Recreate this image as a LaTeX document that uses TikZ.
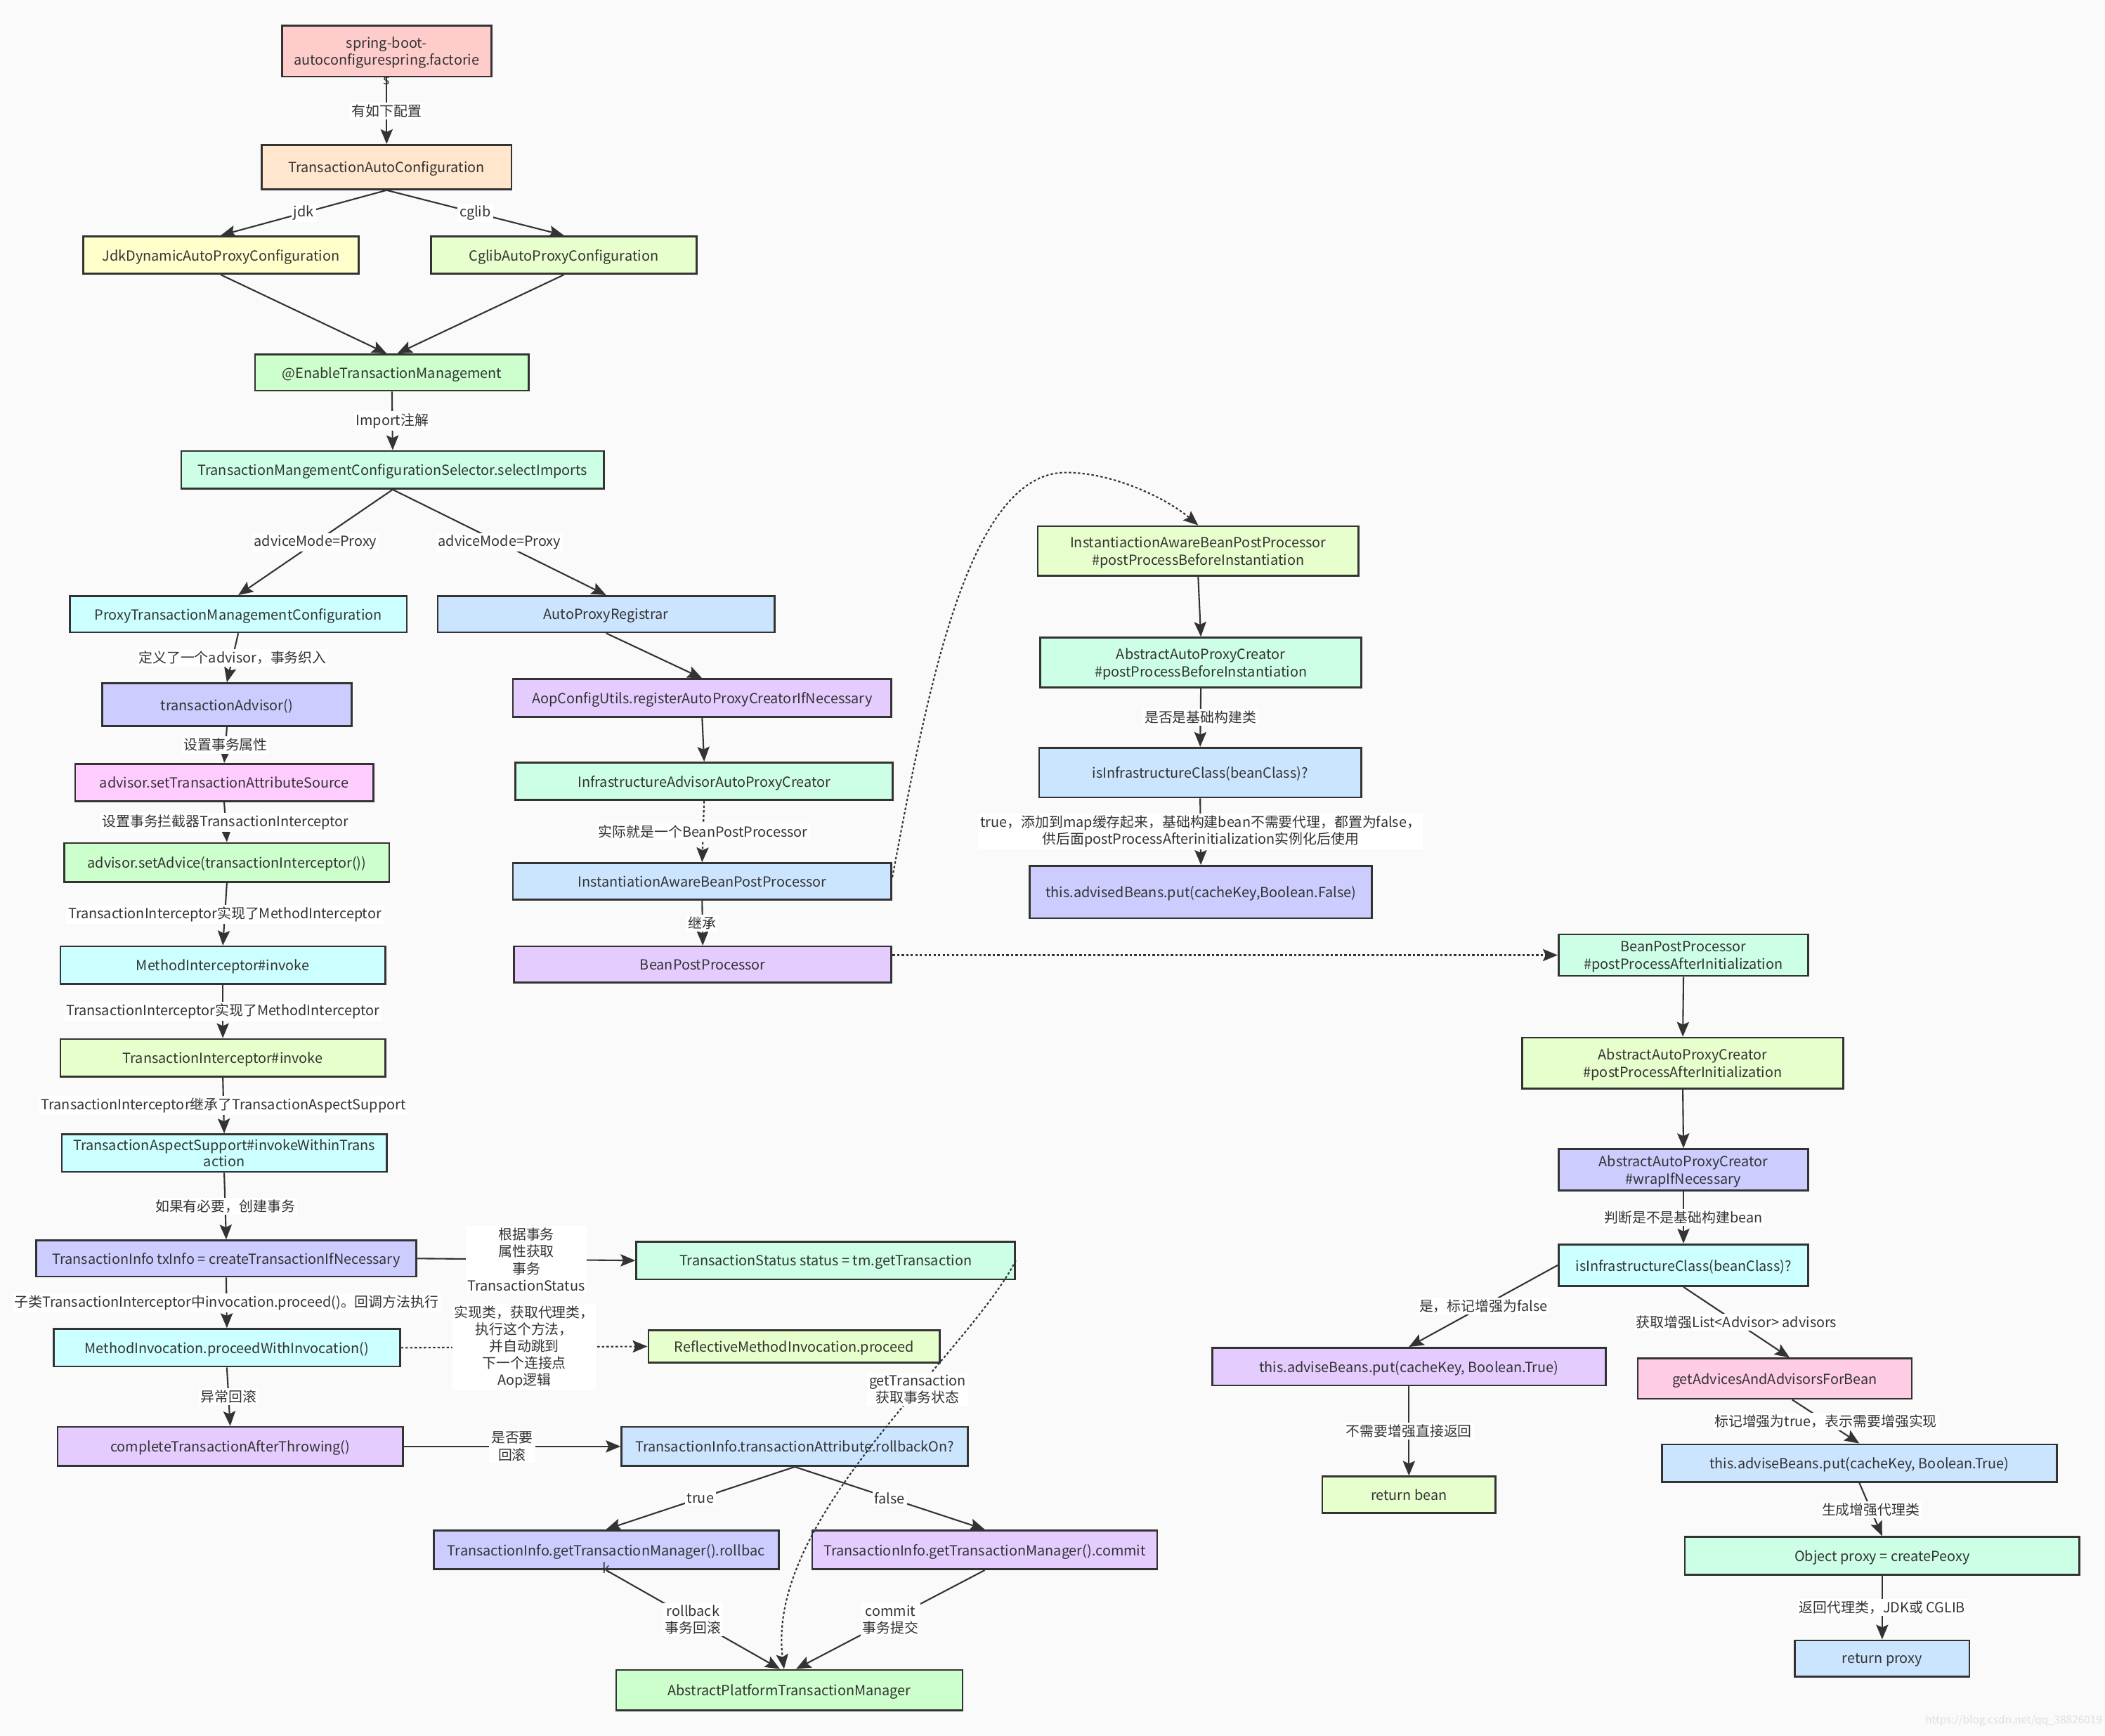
\documentclass[tikz,border=0pt]{standalone}
\usepackage{fontspec}
\setmainfont{Noto Sans CJK SC}
\usetikzlibrary{arrows.meta}
\definecolor{bgc}{HTML}{FAFAFA}
\definecolor{lnc}{HTML}{333333}
\definecolor{txt}{HTML}{333333}
\definecolor{cRed}{HTML}{FFCCCC}
\definecolor{cPeach}{HTML}{FFE6CC}
\definecolor{cYel}{HTML}{FFFFCC}
\definecolor{cLime}{HTML}{E6FFCC}
\definecolor{cGreen}{HTML}{CCFFCC}
\definecolor{cMint}{HTML}{CCFFE6}
\definecolor{cCyan}{HTML}{CCFFFF}
\definecolor{cBlue}{HTML}{CCE5FF}
\definecolor{cIndigo}{HTML}{CCCCFF}
\definecolor{cMag}{HTML}{FFCCFF}
\definecolor{cPurp}{HTML}{E5CCFF}
\definecolor{cPink}{HTML}{FFCCE6}
\begin{document}
\begin{tikzpicture}[x=1pt,y=-1pt,
  box/.style={draw=lnc, line width=1.4pt, rectangle, inner sep=1pt, align=center,
    font=\fontsize{10.4}{12.8}\selectfont, text=txt, text depth=0pt},
  lbl/.style={fill=white, inner sep=1.5pt, align=center, font=\fontsize{10.4}{12.6}\selectfont, text=txt},
  plain/.style={inner sep=0pt, font=\fontsize{10.4}{12.6}\selectfont, text=txt},
  conn/.style={draw=lnc, line width=1.1pt, -{Stealth[length=11pt,width=9pt,inset=2pt]}},
  dotconn/.style={conn, dash pattern=on 1.8pt off 1.6pt},
]
\useasboundingbox (0,0) rectangle (1568,1293);
\fill[bgc] (0,0) rectangle (1568,1293);

% ---------- left column ----------
\node[plain] (n1s) at (288,60) {s};
\node[box, fill=cRed, minimum width=156pt, minimum height=38pt] (n1) at (288,38) {spring-boot-\\autoconfigurespring.factorie};
\node[box, fill=cPeach, minimum width=186pt, minimum height=33pt] (n2) at (288,124.5) {TransactionAutoConfiguration};
\node[box, fill=cYel, minimum width=205pt, minimum height=28pt] (n3) at (164.5,190) {JdkDynamicAutoProxyConfiguration};
\node[box, fill=cLime, minimum width=198pt, minimum height=28pt] (n4) at (420,190) {CglibAutoProxyConfiguration};
\node[box, fill=cGreen, minimum width=204pt, minimum height=27pt] (n5) at (292,277.5) {@EnableTransactionManagement};
\node[box, fill=cMint, minimum width=315pt, minimum height=28pt] (n6) at (292.5,350) {TransactionMangementConfigurationSelector.selectImports};
\node[box, fill=cCyan, minimum width=251pt, minimum height=27pt] (n7) at (177.5,457.5) {ProxyTransactionManagementConfiguration};
\node[box, fill=cBlue, minimum width=251pt, minimum height=27pt] (n8) at (451.5,457.5) {AutoProxyRegistrar};
\node[box, fill=cIndigo, minimum width=186pt, minimum height=32pt] (n9) at (169,525) {transactionAdvisor()};
\node[box, fill=cMag, minimum width=222pt, minimum height=28pt] (n10) at (167,583) {advisor.setTransactionAttributeSource};
\node[box, fill=cGreen, minimum width=242pt, minimum height=29pt] (n11) at (169,642.5) {advisor.setAdvice(transactionInterceptor())};
\node[box, fill=cCyan, minimum width=242pt, minimum height=28pt] (n12) at (166,719) {MethodInterceptor\#invoke};
\node[box, fill=cLime, minimum width=242pt, minimum height=28pt] (n13) at (166,788) {TransactionInterceptor\#invoke};
\node[box, fill=cCyan, minimum width=242pt, minimum height=28pt, font=\fontsize{10.4}{12}\selectfont] (n14) at (167,859) {TransactionAspectSupport\#invokeWithinTrans\\action};
\node[box, fill=cIndigo, minimum width=283pt, minimum height=27pt] (n15) at (168.5,937.5) {TransactionInfo txInfo = createTransactionIfNecessary};
\node[box, fill=cCyan, minimum width=258pt, minimum height=28pt] (n16) at (169,1004) {MethodInvocation.proceedWithInvocation()};
\node[box, fill=cPurp, minimum width=257pt, minimum height=29pt] (n17) at (171.5,1077.5) {completeTransactionAfterThrowing()};

% ---------- bottom middle ----------
\node[box, fill=cMint, minimum width=282pt, minimum height=28pt] (n18) at (615,939) {TransactionStatus status = tm.getTransaction};
\node[box, fill=cLime, minimum width=217pt, minimum height=24pt] (n19) at (591.5,1003) {ReflectiveMethodInvocation.proceed};
\node[box, fill=cBlue, minimum width=258pt, minimum height=29pt] (n20) at (592,1077.5) {TransactionInfo.transactionAttribute.rollbackOn?};
\node[box, fill=cIndigo, minimum width=257pt, minimum height=29pt] (n21) at (451.5,1154.5) {TransactionInfo.getTransactionManager().rollbac};
\node[plain] (n21k) at (451.5,1168) {k};
\node[box, fill=cPurp, minimum width=257pt, minimum height=29pt] (n22) at (733.5,1154.5) {TransactionInfo.getTransactionManager().commit};
\node[box, fill=cGreen, minimum width=258pt, minimum height=30pt] (n23) at (588,1259) {AbstractPlatformTransactionManager};

% ---------- middle column ----------
\node[box, fill=cPurp, minimum width=282pt, minimum height=28pt] (n24) at (523,520) {AopConfigUtils.registerAutoProxyCreatorIfNecessary};
\node[box, fill=cMint, minimum width=281pt, minimum height=28pt] (n25) at (524.5,582) {InfrastructureAdvisorAutoProxyCreator};
\node[box, fill=cBlue, minimum width=282pt, minimum height=27pt] (n26) at (523,656.5) {InstantiationAwareBeanPostProcessor};
\node[box, fill=cPurp, minimum width=281pt, minimum height=27pt] (n27) at (523.5,718.5) {BeanPostProcessor};

% ---------- upper right column ----------
\node[box, fill=cLime, minimum width=239pt, minimum height=37pt] (n28) at (892.5,410.5) {InstantiactionAwareBeanPostProcessor\\\#postProcessBeforeInstantiation};
\node[box, fill=cMint, minimum width=239pt, minimum height=37pt] (n29) at (894.5,493.5) {AbstractAutoProxyCreator\\\#postProcessBeforeInstantiation};
\node[box, fill=cBlue, minimum width=240pt, minimum height=37pt] (n30) at (894,575.5) {isInfrastructureClass(beanClass)?};
\node[box, fill=cIndigo, minimum width=255pt, minimum height=39pt] (n31) at (894.5,664.5) {this.advisedBeans.put(cacheKey,Boolean.False)};

% ---------- right column ----------
\node[box, fill=cMint, minimum width=186pt, minimum height=31pt] (n32) at (1254,711.5) {BeanPostProcessor\\\#postProcessAfterInitialization};
\node[box, fill=cLime, minimum width=239pt, minimum height=38pt] (n33) at (1253.5,792) {AbstractAutoProxyCreator\\\#postProcessAfterInitialization};
\node[box, fill=cIndigo, minimum width=186pt, minimum height=31pt] (n34) at (1254,871.5) {AbstractAutoProxyCreator\\\#wrapIfNecessary};
\node[box, fill=cCyan, minimum width=186pt, minimum height=31pt] (n35) at (1254,942.5) {isInfrastructureClass(beanClass)?};
\node[box, fill=cPurp, minimum width=293pt, minimum height=28pt] (n36) at (1049.5,1018) {this.adviseBeans.put(cacheKey, Boolean.True)};
\node[box, fill=cPink, minimum width=204pt, minimum height=30pt] (n37) at (1322,1027) {getAdvicesAndAdvisorsForBean};
\node[box, fill=cLime, minimum width=129pt, minimum height=27pt] (n38) at (1049.5,1113.5) {return bean};
\node[box, fill=cBlue, minimum width=294pt, minimum height=28pt] (n39) at (1385,1090) {this.adviseBeans.put(cacheKey, Boolean.True)};
\node[box, fill=cMint, minimum width=294pt, minimum height=28pt] (n40) at (1402,1159) {Object proxy = createPeoxy};
\node[box, fill=cBlue, minimum width=130pt, minimum height=27pt] (n41) at (1402,1235.5) {return proxy};

\node[inner sep=0pt, font=\fontsize{8}{9}\selectfont, text=black!13] (wm) at (1500,1282) {https://blog.csdn.net/qq\_38826019};

% ---------- connectors: left column ----------
\draw[conn] (n1.south) -- (n2.north) node[lbl, midway] (l1) {有如下配置};
\draw[conn] (n2.south) -- (n3.north) node[lbl, midway] (l2) {jdk};
\draw[conn] (n2.south) -- (n4.north) node[lbl, midway] (l3) {cglib};
\draw[conn] (n3.south) -- ([xshift=-4pt]n5.north);
\draw[conn] (n4.south) -- ([xshift=4pt]n5.north);
\draw[conn] (n5.south) -- (n6.north) node[lbl, midway] (l4) {Import注解};
\draw[conn] (n6.south) -- (n7.north) node[lbl, midway] (l5) {adviceMode=Proxy};
\draw[conn] (n6.south) -- (n8.north) node[lbl, midway] (l6) {adviceMode=Proxy};
\draw[conn] (n7.south) -- (n9.north) node[lbl, midway] (l7) {定义了一个advisor，事务织入};
\draw[conn] (n9.south) -- (n10.north) node[lbl, midway] (l8) {设置事务属性};
\draw[conn] (n10.south) -- (n11.north) node[lbl, midway] (l9) {设置事务拦截器TransactionInterceptor};
\draw[conn] (n11.south) -- (n12.north) node[lbl, midway] (l10) {TransactionInterceptor实现了MethodInterceptor};
\draw[conn] (n12.south) -- (n13.north) node[lbl, midway] (l11) {TransactionInterceptor实现了MethodInterceptor};
\draw[conn] (n13.south) -- (n14.north) node[lbl, midway] (l12) {TransactionInterceptor继承了TransactionAspectSupport};
\draw[conn] (n14.south) -- (n15.north) node[lbl, midway] (l13) {如果有必要，创建事务};
\draw[conn] (n15.south) -- (n16.north) node[lbl, midway] (l14) {子类TransactionInterceptor中invocation.proceed()。回调方法执行};
\draw[conn] (n16.south) -- (n17.north) node[lbl, midway] (l15) {异常回滚};

% ---------- connectors: bottom middle ----------
\draw[conn] (n15.east) -- (n18.west) node[lbl, midway] (l16) {根据事务\\属性获取\\事务\\TransactionStatus};
\draw[dotconn] (n16.east) -- (n19.west) node[lbl, midway] (l17) {实现类，获取代理类，\\执行这个方法，\\并自动跳到\\下一个连接点\\Aop逻辑};
\draw[conn] (n17.east) -- (n20.west) node[lbl, midway] (l18) {是否要\\回滚};
\draw[conn] (n20.south) -- (n21.north) node[lbl, midway] (l19) {true};
\draw[conn] (n20.south) -- (n22.north) node[lbl, midway] (l20) {false};
\draw[conn] (n21.south) -- ([xshift=-7pt]n23.north) node[lbl, midway] (l21) {rollback\\事务回滚};
\draw[conn] (n22.south) -- ([xshift=5pt]n23.north) node[lbl, midway] (l22) {commit\\事务提交};
\draw[dotconn] (n18.east) .. controls (720,1010) and (570,1130) .. ([xshift=-4pt]n23.north) node[lbl, pos=0.37] (l23) {getTransaction\\获取事务状态};

% ---------- connectors: middle column ----------
\draw[conn] (n8.south) -- (n24.north);
\draw[conn] (n24.south) -- (n25.north);
\draw[dotconn] (n25.south) -- (n26.north) node[lbl, midway] (l24) {实际就是一个BeanPostProcessor};
\draw[conn] (n26.south) -- (n27.north) node[lbl, midway] (l25) {继承};
\draw[dotconn] ([yshift=3pt]n26.east) .. controls (690,520) and (720,352) .. (794,352) .. controls (830,352) and (870,372) .. (n28.north);

% ---------- connectors: upper right ----------
\draw[conn] (n28.south) -- (n29.north);
\draw[conn] (n29.south) -- (n30.north) node[lbl, midway] (l26) {是否是基础构建类};
\draw[conn] (n30.south) -- (n31.north) node[lbl, midway] (l27) {true，添加到map缓存起来，基础构建bean不需要代理，都置为false，\\供后面postProcessAfterinitialization实例化后使用};

% ---------- connectors: right column ----------
\draw[dotconn] (n27.east |- n32.west) -- (n32.west);
\draw[conn] (n32.south) -- (n33.north);
\draw[conn] (n33.south) -- (n34.north);
\draw[conn] (n34.south) -- (n35.north) node[lbl, midway] (l28) {判断是不是基础构建bean};
\draw[conn] (n35.west) -- (n36.north) node[lbl, midway] (l29) {是，标记增强为false};
\draw[conn] (n35.south) -- ([xshift=11pt]n37.north) node[lbl, midway] (l30) {获取增强List<Advisor> advisors};
\draw[conn] (n36.south) -- (n38.north) node[lbl, midway] (l31) {不需要增强直接返回};
\draw[conn] ([xshift=13pt]n37.south) -- (n39.north) node[lbl, midway] (l32) {标记增强为true，表示需要增强实现};
\draw[conn] (n39.south) -- (n40.north) node[lbl, midway] (l33) {生成增强代理类};
\draw[conn] (n40.south) -- (n41.north) node[lbl, midway] (l34) {返回代理类，JDK或 CGLIB};
\end{tikzpicture}
\end{document}
